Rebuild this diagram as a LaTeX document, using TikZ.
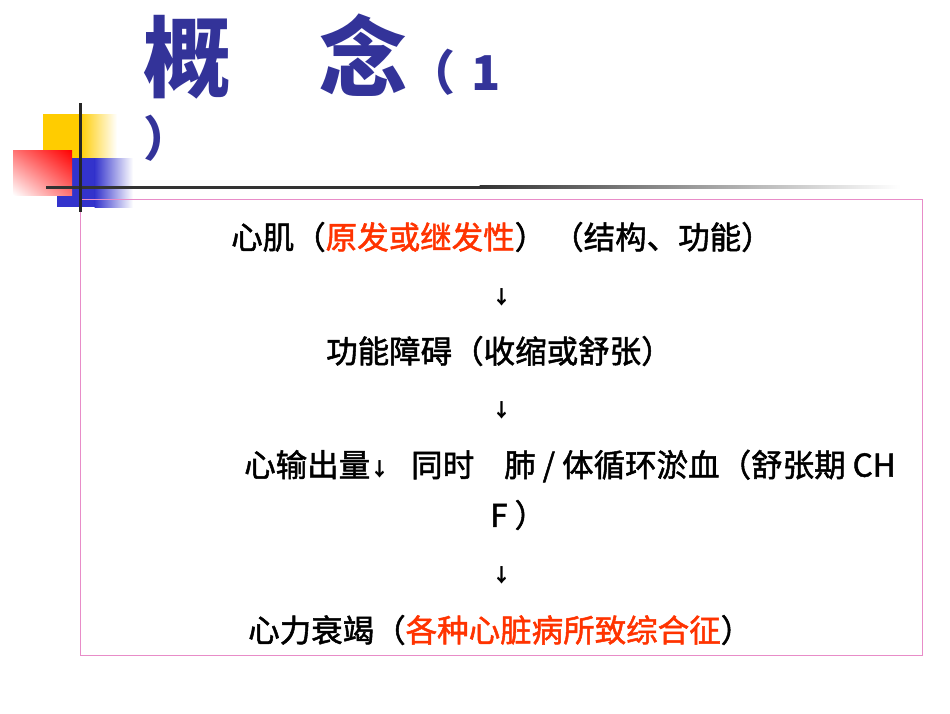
\documentclass[tikz,border=0pt]{standalone}
\usepackage{fontspec}
\usepackage{tikz}
\usetikzlibrary{positioning,shadings}
\newfontfamily\cjk{Noto Sans CJK SC}[FakeBold=1.6]
\newfontfamily\cjkttl{Noto Sans CJK SC}
\definecolor{titleblue}{RGB}{51,51,153}
\definecolor{hired}{RGB}{255,51,0}
\definecolor{framepink}{RGB}{232,140,200}
\definecolor{boxyellow}{RGB}{255,204,0}
\definecolor{boxblue}{RGB}{51,51,204}
\tikzset{
  txt/.style={anchor=west, inner sep=0pt, font=\cjk\fontsize{31.5}{31.5}\selectfont},
  down/.style={inner sep=0pt, font=\cjkttl\bfseries\fontsize{19}{19}\selectfont},
  ttl/.style={anchor=west, inner sep=0pt, text=titleblue, font=\cjkttl\bfseries\fontsize{88}{88}\selectfont},
  sub/.style={inner sep=0pt, text=titleblue, font=\cjkttl\bfseries\fontsize{48}{48}\selectfont}
}
\newcommand{\smalldown}{{\cjkttl\bfseries\fontsize{19}{19}\selectfont ↓}}

\begin{document}
\begin{tikzpicture}[x=1pt,y=-1pt]
	\useasboundingbox (0,0) rectangle (950,713);
	% corner blocks
	\fill [boxyellow] (43,114) rectangle (80,158);
	\shade [left color=boxyellow, right color=white] (79.5,114) rectangle (117,158);
	\fill [boxblue] (57,158) rectangle (95,207);
	\shade [left color=boxblue, right color=white] (94.5,158) rectangle (133,207);
	\shade [upper left=red!55, upper right=red, lower left=white, lower right=red!55] (13,150) rectangle (72,195);
	% rules and frame
	\fill [black!80] (46,185.5) rectangle (480,188.5);
	\shade [left color=black!80, right color=white] (479.5,185.5) rectangle (900,188.5);
	\draw [framepink, line width=1pt] (80,199) rectangle (922,655);
	\draw [black!85, line width=3pt] (80,103) -- (80,212);
	% title
	\node [ttl] (title) at (143,57) {概　念};
	\node [sub, anchor=base west] (num) at (title.base east) {（\hspace{16pt}1};
	\node [sub, anchor=west] (close) at (143,138) {）};
	% body
	\node [txt] (cause) at (231,237) {心肌（\textcolor{hired}{原发或继发性}）\hspace{6pt}（结构、功能）};
	\node [down] (a1) at (502,297) {↓};
	\node [txt] (dysf) at (326,351) {功能障碍（收缩或舒张）};
	\node [down] (a2) at (502,410) {↓};
	\node [txt] (outp) at (244,466) {心输出量\smalldown\hspace{22pt}同时\hspace{30pt}肺 / 体循环淤血（舒张期 CH};
	\node [txt] (outp2) at (490,515) {F ）};
	\node [down] (a3) at (502,575) {↓};
	\node [txt] (hf) at (248,630) {心力衰竭（\textcolor{hired}{各种心脏病所致综合征}）};
\end{tikzpicture}
\end{document}
